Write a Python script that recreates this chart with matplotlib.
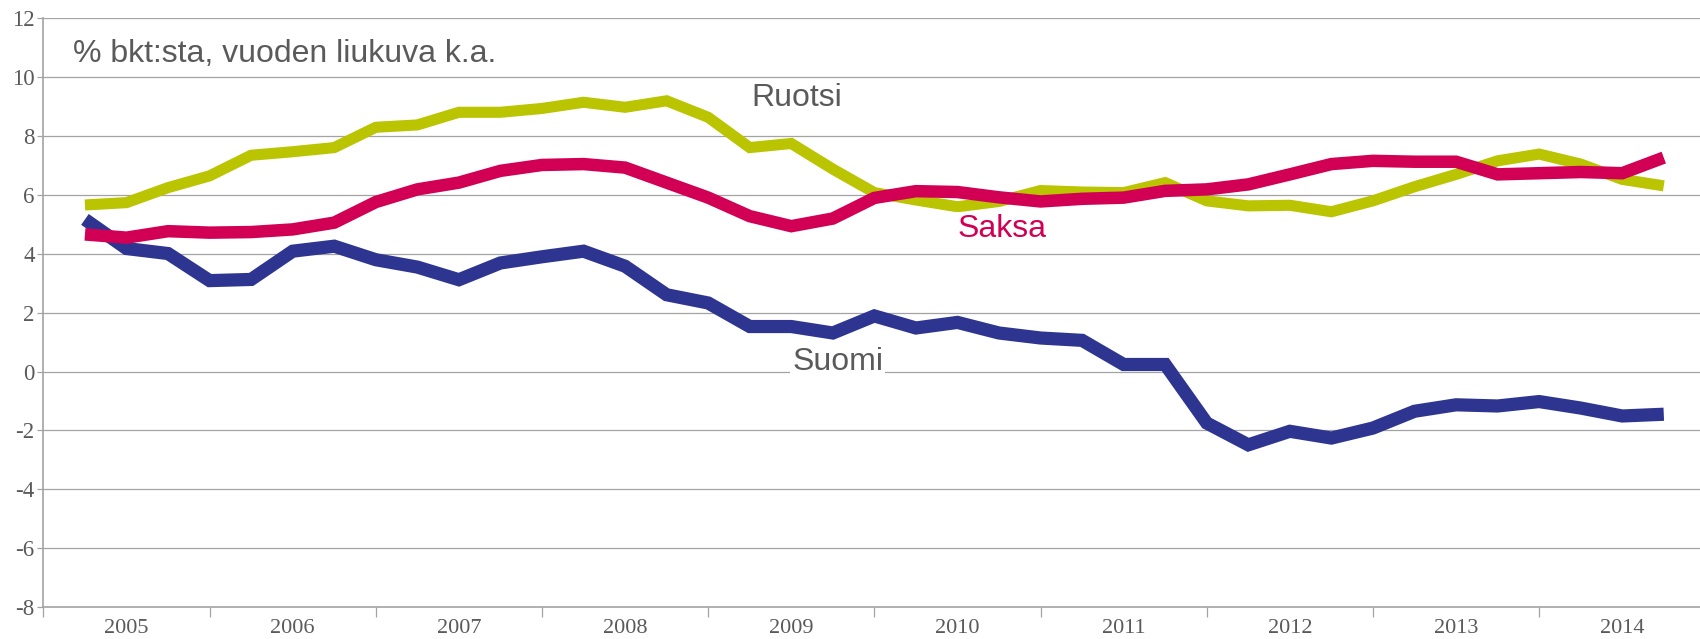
import numpy as np
import matplotlib
matplotlib.use('Agg')
import matplotlib.pyplot as plt

# ===data: quarterly points, 2005Q1..2014Q3 (x = quarter index from start of 2005)
quarters = list(range(1, 40))
years = ['2005', '2006', '2007', '2008', '2009', '2010', '2011', '2012', '2013', '2014']

suomi = [5.17, 4.18, 4.01, 3.09, 3.13, 4.09, 4.26, 3.80, 3.55, 3.12,
         3.69, 3.90, 4.09, 3.58, 2.61, 2.33, 1.53, 1.53, 1.31, 1.89,
         1.48, 1.67, 1.31, 1.14, 1.06, 0.24, 0.24, -1.75, -2.49, -2.03,
         -2.26, -1.92, -1.35, -1.13, -1.17, -1.02, -1.24, -1.51, -1.45]

ruotsi = [5.66, 5.74, 6.25, 6.65, 7.35, 7.47, 7.61, 8.30, 8.38, 8.81,
          8.81, 8.94, 9.15, 8.98, 9.20, 8.64, 7.61, 7.75, 6.88, 6.08,
          5.83, 5.60, 5.78, 6.15, 6.10, 6.08, 6.42, 5.80, 5.63, 5.65,
          5.43, 5.80, 6.28, 6.70, 7.16, 7.39, 7.05, 6.53, 6.31]

saksa = [4.66, 4.55, 4.77, 4.72, 4.74, 4.83, 5.06, 5.76, 6.19, 6.42,
         6.82, 7.02, 7.05, 6.93, 6.42, 5.91, 5.28, 4.94, 5.20, 5.90,
         6.13, 6.10, 5.92, 5.78, 5.87, 5.91, 6.14, 6.19, 6.36, 6.70,
         7.05, 7.16, 7.13, 7.13, 6.70, 6.74, 6.78, 6.74, 7.27]

c_ruotsi = '#bac400'
c_saksa = '#d20055'
c_suomi = '#2e3590'
c_text = '#5a5a5a'
c_grid = '#a3a3a3'

sans = ['Liberation Sans', 'DejaVu Sans']
serif = ['Liberation Serif', 'DejaVu Serif']

fig = plt.figure(figsize=(17, 6.39), dpi=100)
ax = fig.add_axes([0.02553, 0.0501, 0.9776, 0.9211])

ax.plot(quarters, ruotsi, color=c_ruotsi, lw=8, solid_joinstyle='miter',
        solid_capstyle='butt', zorder=2)
ax.plot(quarters, suomi, color=c_suomi, lw=9.5, solid_joinstyle='miter',
        solid_capstyle='butt', zorder=2.5)
ax.plot(quarters, saksa, color=c_saksa, lw=9, solid_joinstyle='miter',
        solid_capstyle='butt', zorder=4)

ax.set_xlim(0, 40)
ax.set_ylim(-8, 12)

# y axis
ax.set_yticks(np.arange(-8, 13, 2))
ax.set_yticklabels([str(v) for v in range(-8, 13, 2)], family=serif,
                   fontsize=16.5, color=c_text)
ax.tick_params(axis='y', length=4.3, width=0.9, color=c_grid, pad=2)
ax.yaxis.grid(True, color=c_grid, lw=0.9)
ax.set_axisbelow(True)

# x axis: ticks at year boundaries, labels centred in each year
ax.set_xticks(np.arange(0, 41, 4))
ax.set_xticklabels([])
ax.set_xticks(np.arange(2, 40, 4), minor=True)
ax.set_xticklabels(years, minor=True, family=serif, fontsize=16, color=c_text)
ax.tick_params(axis='x', which='major', length=7.2, width=0.9, color=c_grid)
ax.tick_params(axis='x', which='minor', length=0, pad=9)

for s in ['top', 'right']:
    ax.spines[s].set_visible(False)
for s in ['left', 'bottom']:
    ax.spines[s].set_color(c_grid)
    ax.spines[s].set_linewidth(1.2)

# texts
ax.text(0.71, 10.51, '% bkt:sta, vuoden liukuva k.a.', family=sans,
        fontsize=23, color=c_text, ha='left', va='baseline')
box = dict(facecolor='white', edgecolor='none', pad=1.5)
ax.text(17.03, 9.02, 'Ruotsi', family=sans, fontsize=23, color=c_text,
        ha='left', va='baseline', bbox=box, zorder=3)
ax.text(22.01, 4.565, 'Saksa', family=sans, fontsize=23, color=c_saksa,
        ha='left', va='baseline', bbox=box, zorder=3)
ax.text(18.02, 0.044, 'Suomi', family=sans, fontsize=23, color=c_text,
        ha='left', va='baseline', bbox=box, zorder=3)

fig.savefig('out.png', dpi=100)
